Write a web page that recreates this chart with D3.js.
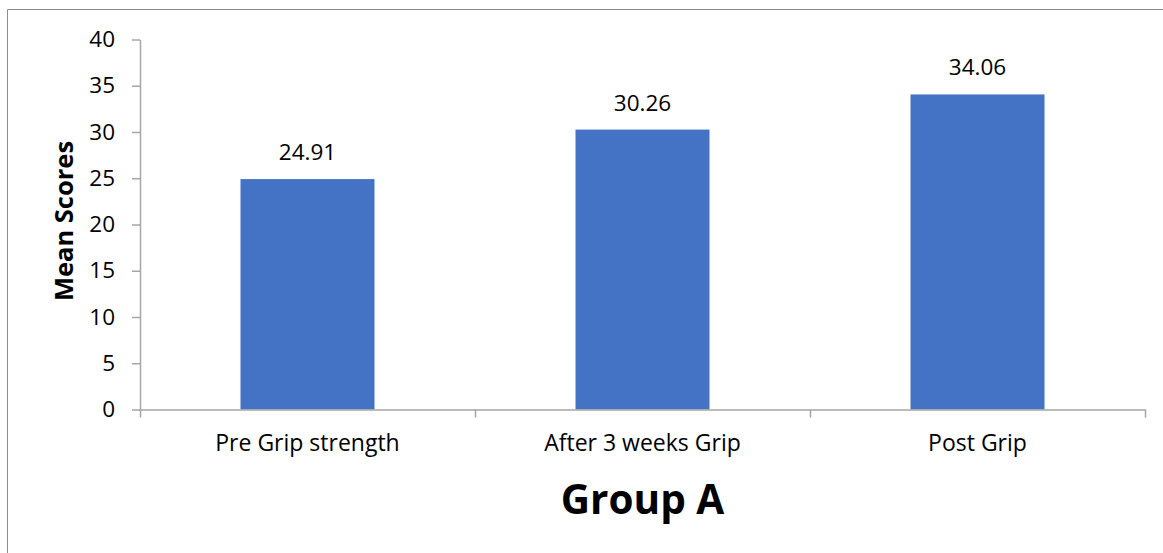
<!DOCTYPE html>
<html>
<head>
<meta charset="utf-8">
<script src="https://cdn.jsdelivr.net/npm/d3@7/dist/d3.min.js"></script>
<style>
  html, body { margin: 0; padding: 0; background: #fff; }
  svg { display: block; }
  text { font-family: "Open Sans", "Noto Sans", sans-serif; fill: #000; }
</style>
</head>
<body>
<svg id="chart" width="1163" height="553"></svg>
<script>
// Mean grip strength scores, Group A
const categories = ["Pre Grip strength", "After 3 weeks Grip", "Post Grip"];
const meanScores = [24.91, 30.26, 34.06];
const yTicks = [0, 5, 10, 15, 20, 25, 30, 35, 40];
const yTitle = "Mean Scores";
const xTitle = "Group A";

const svg = d3.select("#chart");
const W = 1163, H = 553;

const plot = { left: 140, right: 1145, top: 39.5, bottom: 409.5 };

// outer chart frame (top and left edges inside the view)
svg.append("path")
  .attr("d", `M7.5,${H} V9.5 H${W}`)
  .attr("fill", "none")
  .attr("stroke", "#8c8c8c")
  .attr("stroke-width", 1);

const y = d3.scaleLinear().domain([0, 40]).range([plot.bottom, plot.top]);
const x = d3.scaleBand().domain(categories)
  .range([plot.left, plot.right])
  .paddingInner(0.6).paddingOuter(0.3);

// category boundary scale for the bottom axis tick marks
const xEdge = d3.scaleLinear().domain([0, categories.length]).range([plot.left, plot.right]);

// bars
svg.append("g").selectAll("rect")
  .data(meanScores)
  .join("rect")
  .attr("x", (d, i) => x(categories[i]))
  .attr("width", x.bandwidth())
  .attr("y", d => y(d))
  .attr("height", d => y(0) - y(d))
  .attr("fill", "#4472C4");

// y axis
const yAxis = svg.append("g")
  .attr("transform", `translate(${plot.left},0)`)
  .call(d3.axisLeft(y).tickValues(yTicks).tickSize(8).tickPadding(17).tickSizeOuter(0));
yAxis.select(".domain").attr("stroke", "#a6a6a6").attr("stroke-width", 1.5);
yAxis.selectAll(".tick line").attr("stroke", "#a6a6a6").attr("stroke-width", 1.5);
yAxis.selectAll(".tick text")
  .attr("font-family", "Open Sans, sans-serif")
  .attr("font-size", 22.5)
  .attr("fill", "#000");

// x axis (boundary ticks only)
const xAxis = svg.append("g")
  .attr("transform", `translate(0,${plot.bottom})`)
  .call(d3.axisBottom(xEdge).tickValues(d3.range(categories.length + 1)).tickSize(8).tickSizeOuter(0).tickFormat(""));
xAxis.select(".domain").attr("stroke", "#a6a6a6").attr("stroke-width", 1.5);
xAxis.selectAll(".tick line").attr("stroke", "#a6a6a6").attr("stroke-width", 1.5);

// category labels
svg.append("g").selectAll("text")
  .data(categories)
  .join("text")
  .attr("x", d => x(d) + x.bandwidth() / 2)
  .attr("y", 451)
  .attr("text-anchor", "middle")
  .attr("font-size", 23)
  .text(d => d);

// value labels
svg.append("g").selectAll("text")
  .data(meanScores)
  .join("text")
  .attr("x", (d, i) => x(categories[i]) + x.bandwidth() / 2)
  .attr("y", d => y(d) - 19)
  .attr("text-anchor", "middle")
  .attr("font-size", 22.5)
  .text(d => d.toFixed(2));

// axis titles
svg.append("text")
  .attr("transform", `translate(73,221) rotate(-90)`)
  .attr("text-anchor", "middle")
  .attr("font-size", 25.5)
  .attr("font-weight", "bold")
  .text(yTitle);

svg.append("text")
  .attr("x", (plot.left + plot.right) / 2)
  .attr("y", 514)
  .attr("text-anchor", "middle")
  .attr("font-size", 40.5)
  .attr("font-weight", "bold")
  .text(xTitle);
</script>
</body>
</html>
